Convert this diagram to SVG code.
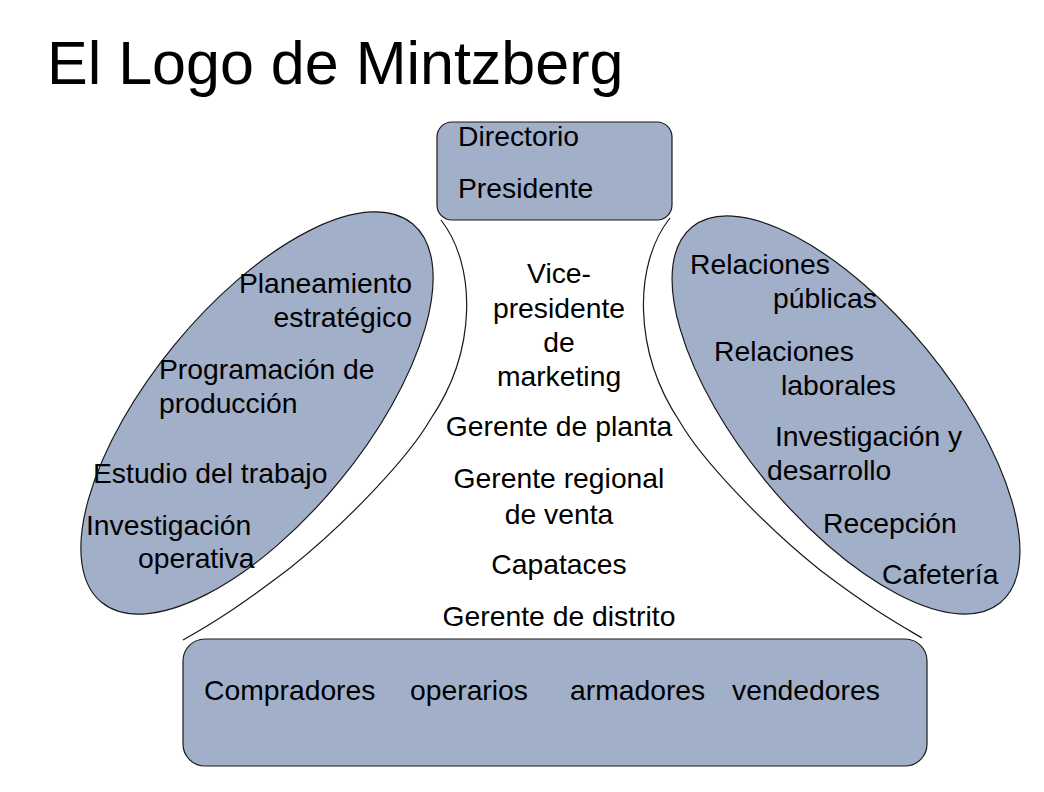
<svg xmlns="http://www.w3.org/2000/svg" width="1044" height="792" viewBox="0 0 1044 792">
<style>
  .shape { fill: #A1AFC9; stroke: #1a1a1a; stroke-width: 1.2; }
  .conn { fill: none; stroke: #1a1a1a; stroke-width: 1.2; }
  text { font-family: "Liberation Sans", Arial, sans-serif; font-size: 28.3px; fill: #000; }
  .title { font-size: 61px; }
  .mid { text-anchor: middle; }
  .end { text-anchor: end; }
</style>
<rect width="1044" height="792" fill="#ffffff"/>
<text class="title" x="47" y="84">El Logo de Mintzberg</text>

<g id="connectors">
  <path class="conn" d="M441,220 C476,265 478,350 430,420 C410,455 350,520 290,568 C240,606 215,622 183,640"/>
  <path class="conn" d="M670,218 C634,263 632,350 680,422 C700,457 760,522 820,570 C870,608 895,622 922,638"/>
</g>

<g id="top">
  <rect class="shape" x="437" y="122" width="235" height="98" rx="15" ry="15"/>
  <text x="458" y="146">Directorio</text>
  <text x="458" y="198">Presidente</text>
</g>

<g id="left">
  <ellipse class="shape" cx="257" cy="413" rx="245" ry="107" transform="rotate(-50.6 257 413)"/>
  <text class="end" x="412" y="293">Planeamiento</text>
  <text class="end" x="412" y="327">estratégico</text>
  <text x="159" y="379">Programación de</text>
  <text x="159" y="413">producción</text>
  <text x="93" y="483">Estudio del trabajo</text>
  <text x="86" y="535">Investigación</text>
  <text x="138" y="568">operativa</text>
</g>

<g id="right">
  <ellipse class="shape" cx="846" cy="415" rx="243" ry="104" transform="rotate(50.6 846 415)"/>
  <text x="690" y="274">Relaciones</text>
  <text x="773" y="308">públicas</text>
  <text x="714" y="361">Relaciones</text>
  <text x="781" y="395">laborales</text>
  <text x="775" y="446">Investigación y</text>
  <text x="767" y="480">desarrollo</text>
  <text x="823" y="533">Recepción</text>
  <text x="882" y="584">Cafetería</text>
</g>

<g id="middle">
  <text class="mid" x="559" y="283">Vice-</text>
  <text class="mid" x="559" y="318">presidente</text>
  <text class="mid" x="559" y="352">de</text>
  <text class="mid" x="559" y="386">marketing</text>
  <text class="mid" x="559" y="436">Gerente de planta</text>
  <text class="mid" x="559" y="488">Gerente regional</text>
  <text class="mid" x="559" y="524">de venta</text>
  <text class="mid" x="559" y="574">Capataces</text>
  <text class="mid" x="559" y="626">Gerente de distrito</text>
</g>

<g id="bottom">
  <rect class="shape" x="183" y="639" width="744" height="127" rx="22" ry="22"/>
  <text y="700"><tspan x="204">Compradores</tspan><tspan x="410">operarios</tspan><tspan x="570">armadores</tspan><tspan x="732">vendedores</tspan></text>
</g>
</svg>
